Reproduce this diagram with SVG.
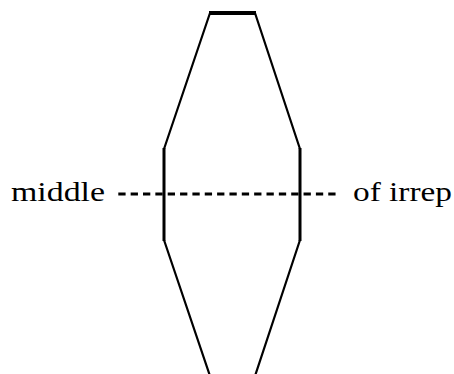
<svg xmlns="http://www.w3.org/2000/svg" width="454" height="374" viewBox="0 0 454 374">
<style>
.e{fill:none;stroke:#000;stroke-linecap:butt;stroke-linejoin:miter}
.t{font-family:"Liberation Serif",serif;font-size:28px;fill:#000}
</style>
<rect width="454" height="374" fill="#fff"/>
<g id="shape">
<path class="e" stroke-width="2.2" d="M210,13 L164,149 M255,13 L300,149 M164,240 L210,376 M300,240 L255,376"/>
<path class="e" stroke-width="3" d="M164,148 L164,241 M300,148 L300,241"/>
<path class="e" stroke-width="4" d="M209,13 L256,13"/>
</g>
<g id="connectors">
<path class="e" stroke-width="3" stroke-dasharray="7.3,5.05" d="M118.3,194 L335.6,194"/>
</g>
<g id="label-left"><text class="t" x="11" y="201" textLength="94" lengthAdjust="spacingAndGlyphs">middle</text></g>
<g id="label-right"><text class="t" x="353" y="201" textLength="99" lengthAdjust="spacingAndGlyphs">of irrep</text></g>
</svg>
